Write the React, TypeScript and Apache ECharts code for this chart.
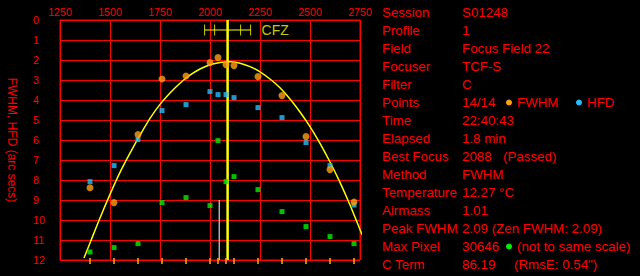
import React, { useEffect, useRef } from "react";
import * as echarts from "echarts";

// Focuser positions of the 14 samples
const positions = [1400, 1520, 1640, 1760, 1880, 2000, 2040, 2080, 2120, 2240, 2360, 2480, 2600, 2720];
// FWHM (arc secs)
const fwhm = [8.39, 9.13, 5.73, 2.95, 2.8, 2.13, 1.88, 2.23, 2.28, 2.83, 3.78, 5.83, 7.48, 9.1];
// HFD (arc secs)
const hfd = [8.08, 7.28, 5.98, 4.53, 4.23, 3.58, 3.73, 3.73, 3.88, 4.38, 4.88, 6.13, 7.28, 9.25];
// Max pixel (not to same scale)
const maxPixel = [11.6, 11.38, 11.18, 9.13, 8.88, 9.28, 6.03, 8.08, 7.83, 8.48, 9.58, 10.33, 10.83, 11.18];
// Fitted curve
const curveX = [1370, 1400, 1450, 1500, 1550, 1600, 1650, 1700, 1750, 1800, 1850, 1900, 1950, 2000, 2050, 2100, 2150, 2200, 2250, 2300, 2350, 2400, 2450, 2500, 2550, 2600, 2650, 2700, 2761];
const curveY = [11.9, 11.15, 9.9, 8.72, 7.62, 6.66, 5.76, 4.92, 4.22, 3.65, 3.16, 2.76, 2.45, 2.24, 2.12, 2.09, 2.16, 2.33, 2.59, 2.95, 3.39, 3.95, 4.6, 5.33, 6.17, 7.1, 8.12, 9.25, 10.75];
const bestFocus = 2088;
const whiteLineX = 2046;
const whiteLineFrom = 9;
const cfzOuter = [1973, 2203];
const cfzInner = [2023, 2153];
const cfzY = 0.5;

const infoLabels = ["Session", "Profile", "Field", "Focuser", "Filter", "Points", "Time", "Elapsed", "Best Focus", "Method", "Temperature", "Airmass", "Peak FWHM", "Max Pixel", "C Term"];
const infoValues = ["S01248", "1", "Focus Field 22", "TCF-S", "C", "14/14", "22:40:43", "1.8 min", "2088", "FWHM", "12.27 °C", "1.01", "2.09 (Zen FWHM: 2.09)", "30646", "86.19"];

const RED = "#ff0000";
const ORANGE = "#ffa010";
const BLUE = "#20c0ff";
const GREEN = "#00f000";
const YELLOW = "#ffff00";
const FONT = "'Liberation Sans', Arial, sans-serif";

export default function App() {
  const ref = useRef<HTMLDivElement>(null);
  useEffect(() => {
    document.body.style.margin = "0";
    document.body.style.background = "#000";
    const chart = echarts.init(ref.current!, null, { renderer: "svg" });
    const fs = 13.33;
    const texts: any[] = [];
    const rowY = (i: number) => 12.5 + i * 18;
    infoLabels.forEach((l, i) => {
      const y = rowY(i);
      texts.push({ type: "text", x: 382, y, style: { text: l, fill: RED, font: `${fs}px ${FONT}`, textVerticalAlign: "middle" } });
      texts.push({ type: "text", x: 462, y, style: { text: infoValues[i], fill: RED, font: `${fs}px ${FONT}`, textVerticalAlign: "middle" } });
    });
    texts.push({ type: "circle", shape: { cx: 509, cy: rowY(5), r: 3 }, style: { fill: ORANGE } });
    texts.push({ type: "text", x: 517, y: rowY(5), style: { text: "FWHM", fill: RED, font: `${fs}px ${FONT}`, textVerticalAlign: "middle" } });
    texts.push({ type: "circle", shape: { cx: 579, cy: rowY(5), r: 3 }, style: { fill: BLUE } });
    texts.push({ type: "text", x: 587, y: rowY(5), style: { text: "HFD", fill: RED, font: `${fs}px ${FONT}`, textVerticalAlign: "middle" } });
    texts.push({ type: "text", x: 503, y: rowY(8), style: { text: "(Passed)", fill: RED, font: `${fs}px ${FONT}`, textVerticalAlign: "middle" } });
    texts.push({ type: "circle", shape: { cx: 509, cy: rowY(13), r: 3 }, style: { fill: GREEN } });
    texts.push({ type: "text", x: 517, y: rowY(13), style: { text: "(not to same scale)", fill: RED, font: `${fs}px ${FONT}`, textVerticalAlign: "middle" } });
    texts.push({ type: "text", x: 514, y: rowY(14), style: { text: '(RmsE: 0.54")', fill: RED, font: `${fs}px ${FONT}`, textVerticalAlign: "middle" } });

    chart.setOption({
      animation: false,
      backgroundColor: "#000",
      grid: { left: 60, top: 20, width: 300, height: 240, show: true, borderColor: RED, borderWidth: 1, backgroundColor: "transparent" },
      xAxis: {
        type: "value", position: "top", min: 1250, max: 2750, interval: 250,
        axisLine: { show: true, lineStyle: { color: RED } },
        axisTick: { show: false },
        axisLabel: { color: RED, fontSize: 10.67, fontFamily: FONT, margin: 3, formatter: (v: number) => String(v) },
        splitLine: { show: true, lineStyle: { color: RED, width: 1 } },
      },
      yAxis: {
        type: "value", inverse: true, min: 0, max: 12, interval: 1,
        name: "FWHM, HFD (arc secs)", nameLocation: "middle", nameRotate: -90, nameGap: 42,
        nameTextStyle: { color: RED, fontSize: 12, fontFamily: FONT },
        axisLine: { show: true, lineStyle: { color: RED } },
        axisTick: { show: false },
        axisLabel: { color: RED, fontSize: 10.67, fontFamily: FONT, margin: 27, align: "left" },
        splitLine: { show: true, lineStyle: { color: RED, width: 1 } },
      },
      graphic: texts,
      series: [
        {
          type: "line", data: [[whiteLineX, whiteLineFrom], [whiteLineX, 12]], showSymbol: false,
          lineStyle: { color: "#ffffff", width: 1 }, silent: true, z: 3,
        },
        {
          type: "line", data: [[bestFocus, 0], [bestFocus, 12]], showSymbol: false,
          lineStyle: { color: YELLOW, width: 2.5 }, silent: true, z: 3,
        },
        {
          type: "line", data: curveX.map((x, i) => [x, curveY[i]]), showSymbol: false, smooth: 0.3,
          lineStyle: { color: YELLOW, width: 1.5 }, silent: true, z: 4,
        },
        {
          type: "line", data: [[cfzOuter[0], cfzY], [cfzOuter[1], cfzY]], showSymbol: false,
          lineStyle: { color: YELLOW, width: 1 }, silent: true, z: 4,
        },
        {
          type: "scatter", data: [cfzOuter[0], cfzInner[0], cfzInner[1], cfzOuter[1]].map((x) => [x, cfzY]),
          symbol: "rect", symbolSize: [1, 11], itemStyle: { color: YELLOW }, z: 4,
        },
        {
          type: "scatter", data: [[cfzOuter[1], cfzY]], symbolSize: 0,
          label: { show: true, position: "right", distance: 11, formatter: "CFZ", color: YELLOW, fontSize: 14, fontFamily: FONT },
          z: 4,
        },
        {
          type: "scatter", data: maxPixel.map((v, i) => [positions[i], v]),
          symbol: "rect", symbolSize: 5, itemStyle: { color: GREEN }, z: 5,
        },
        {
          type: "scatter", data: hfd.map((v, i) => [positions[i], v]),
          symbol: "rect", symbolSize: 5, itemStyle: { color: BLUE }, z: 5,
        },
        {
          type: "scatter", data: fwhm.map((v, i) => [positions[i], v]),
          symbol: "circle", symbolSize: 7, itemStyle: { color: ORANGE }, z: 6,
        },
        {
          type: "scatter", data: positions.map((x) => [x, 12]), clip: false,
          symbol: "rect", symbolSize: [2, 6], symbolOffset: [0, 1], itemStyle: { color: ORANGE }, z: 6,
        },
      ],
    });
    return () => chart.dispose();
  }, []);
  return <div ref={ref} style={{ width: 640, height: 276, background: "#000" }} />;
}
